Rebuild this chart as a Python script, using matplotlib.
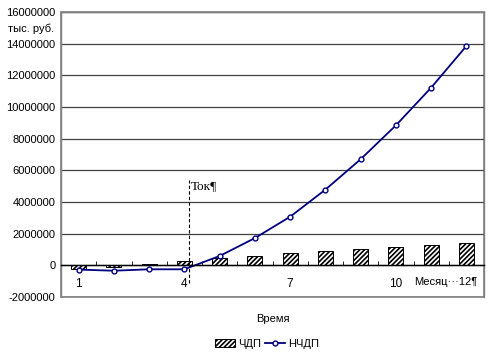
import numpy as np
import matplotlib
matplotlib.use("Agg")
import matplotlib.pyplot as plt
from matplotlib.ticker import FixedLocator, NullFormatter

plt.rcParams['font.family'] = ['Liberation Sans', 'DejaVu Sans']
plt.rcParams['hatch.linewidth'] = 1.2

# data, month 1..12
months = np.arange(1, 13)
chdp = np.array([-0.20, -0.12, 0.10, 0.27, 0.44, 0.59, 0.76, 0.88, 1.03, 1.14, 1.28, 1.41]) * 1e6
nchdp = np.array([-0.27, -0.34, -0.25, -0.25, 0.59, 1.72, 3.07, 4.78, 6.70, 8.84, 11.22, 13.85]) * 1e6
xtick_shown = [1, 4, 7, 10]
yticks = np.arange(-2000000, 16000001, 2000000)
t_ok = 4.13

fig = plt.figure(figsize=(4.96, 3.54), dpi=100)
ax = fig.add_axes([61 / 496, 1 - 297 / 354, 423 / 496, 285 / 354])

navy = '#000080'
grey = '#808080'

# bars
bars = ax.bar(months, chdp, width=0.43, color='white', edgecolor='black',
              hatch='///////', linewidth=0.7, label='ЧДП', zorder=3)
# line
line, = ax.plot(months, nchdp, color=navy, lw=1.3, marker='o', ms=3.5,
                mfc='white', mec=navy, mew=1, label='НЧДП', zorder=4)

ax.set_xlim(0.5, 12.5)
ax.set_ylim(-2000000, 16000000)
ax.set_yticks(yticks)
ax.set_yticklabels([str(v) for v in yticks], fontsize=8)
ax.yaxis.grid(True, color='#404040', lw=0.9)
ax.set_axisbelow(True)
ax.tick_params(axis='y', length=0, pad=4)

# frame
for s in ['left', 'top', 'right']:
    ax.spines[s].set_color(grey)
    ax.spines[s].set_linewidth(1)
ax.patch.set_edgecolor(grey)
ax.patch.set_linewidth(1.2)

# x axis at zero
ax.spines['bottom'].set_position(('data', 0))
ax.spines['bottom'].set_color('black')
ax.spines['bottom'].set_linewidth(1)
ax.spines['bottom'].set_zorder(5)
ax.xaxis.set_major_locator(FixedLocator(xtick_shown))
ax.set_xticklabels([str(v) for v in xtick_shown], fontsize=8.5)
ax.xaxis.set_minor_locator(FixedLocator(np.arange(0.5, 13, 1.0)))
ax.xaxis.set_minor_formatter(NullFormatter())
ax.tick_params(axis='x', which='major', length=0, pad=9)
ax.tick_params(axis='x', which='minor', direction='in', length=3, color='black')

# Ток marker
ax.vlines(t_ok, -1100000, 5400000, colors='black', linestyles=(0, (3, 2)), lw=0.8, zorder=5)
ax.text(t_ok + 0.05, 5000000, 'Ток¶', family='Liberation Serif', fontsize=9.5, va='center', ha='left')
ax.text(12.3, -1050000, 'Месяц···12¶', fontsize=8, va='center', ha='right')

fig.text(8 / 496, 1 - 29 / 354, 'тыс. руб.', fontsize=8, va='center', ha='left')
fig.text(273 / 496, 1 - 319 / 354, 'Время', fontsize=8, va='center', ha='center')

fig.legend(handles=[bars, line], loc='center', bbox_to_anchor=(267 / 496, 1 - 344 / 354),
           ncol=2, frameon=False, fontsize=8, handlelength=1.8, handletextpad=0.3,
           columnspacing=0.3, borderaxespad=0)

fig.savefig('out.png', dpi=100, facecolor='white')
